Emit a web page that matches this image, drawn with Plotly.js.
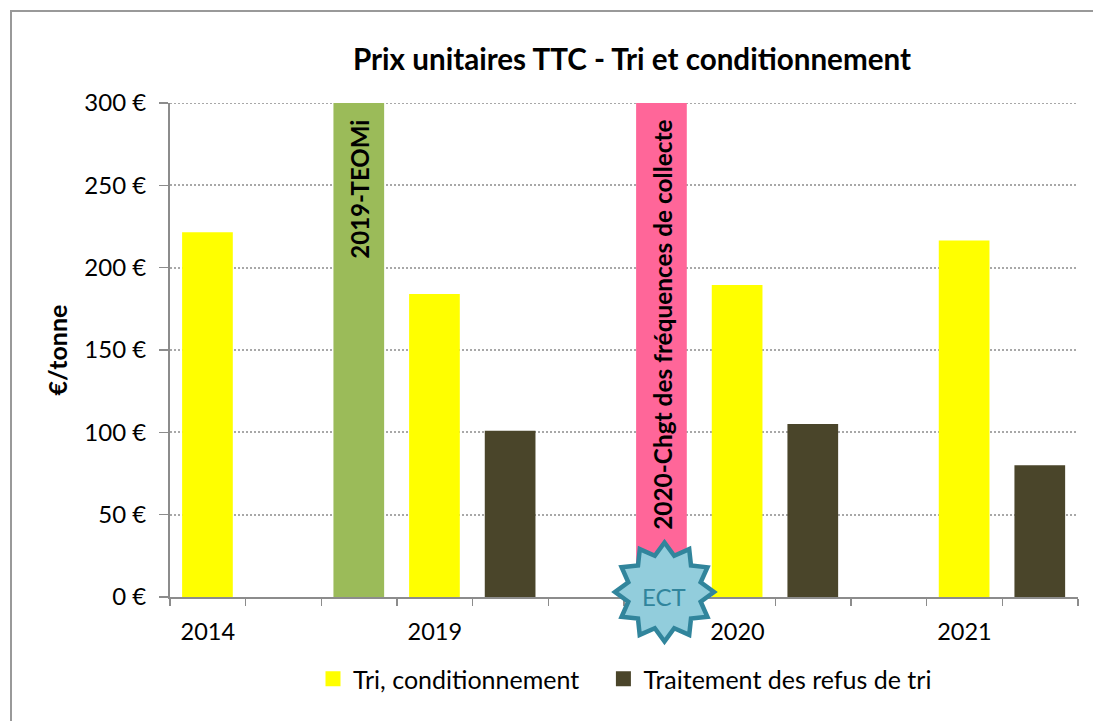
<!DOCTYPE html>
<html><head><meta charset="utf-8">
<script src="https://cdn.plot.ly/plotly-3.0.1.min.js"></script>
<style>html,body{margin:0;padding:0;background:#fff;overflow:hidden}#c{width:1093px;height:721px}</style>
</head><body><div id="c"></div>
<script>
const slots = ['a','b','c','d','e','f','g','h','i','j','k','l'];
const tickLabels = ['2014','','','2019','','','','2020','','','2021',''];
const tri = [221.5,null,null,184,null,null,null,189.5,null,null,216.5,null];
const refus = [null,null,null,null,101,null,null,null,105,null,null,80];
const teomi = [null,null,300,null,null,null,null,null,null,null,null,null];
const chgt = [null,null,null,null,null,null,300,null,null,null,null,null];
const FONT = 'Lato, Carlito, sans-serif';
const W = 1093, H = 721, L = 170, R = 1078, T = 103, B = 597;
const px = v => (v - L) / (R - L), py = v => (B - v) / (B - T);
const GRID = '#A8A8A8', AXIS = '#8C8C8C';

// 12-point star outline, offsets in pixels around the anchor
let star = '';
for (let i = 0; i < 24; i++) {
  const r = i % 2 ? 37.5 : 49.5, a = i * Math.PI / 12;
  star += (i ? 'L' : 'M') + (r * Math.sin(a)).toFixed(1) + ',' + (-r * Math.cos(a)).toFixed(1);
}
star += 'Z';

const bar = (name, y, color) => ({type:'bar', name, x:slots, y, marker:{color, line:{width:0}}, showlegend:false, width:0.67, offset:-0.34});
const key = (name, color) => ({type:'scatter', mode:'markers', name, x:[null], y:[null], marker:{symbol:'square', size:15, color}, showlegend:true});
const traces = [
  bar('Tri, conditionnement', tri, '#FFFF00'),
  bar('Traitement des refus de tri', refus, '#4A452A'),
  bar('2019-TEOMi', teomi, '#9BBB59'),
  bar('2020-Chgt des fréquences de collecte', chgt, '#FF6699'),
  key('Tri, conditionnement\u00A0\u00A0\u00A0', '#FFFF00'),
  key('Traitement des refus de tri', '#4A452A')
];
const layout = {
  width:W, height:H, autosize:false,
  margin:{l:L, r:W-R, t:T, b:H-B, pad:0},
  paper_bgcolor:'#fff', plot_bgcolor:'#fff',
  font:{family:FONT, color:'#000', size:24},
  barmode:'overlay',
  title:{text:'<b>Prix unitaires TTC - Tri et conditionnement</b>', font:{size:29.6, family:FONT, color:'#000'}, x:632/W, xanchor:'center', y:1-60/H, yanchor:'middle'},
  xaxis:{type:'category', categoryorder:'array', categoryarray:slots, tickmode:'array', tickvals:slots, ticktext:tickLabels,
    tickson:'boundaries', ticks:'outside', ticklen:7, tickwidth:1.5, tickcolor:AXIS, showline:true, linecolor:AXIS, linewidth:2,
    showgrid:false, zeroline:false, tickangle:0, ticklabelstandoff:13, tickfont:{size:23.5, family:FONT}, fixedrange:true, range:[-0.5,11.5]},
  yaxis:{range:[0,300], tickmode:'array', tickvals:[0,50,100,150,200,250,300], ticktext:['0 €','50 €','100 €','150 €','200 €','250 €','300 €'],
    ticks:'outside', ticklen:9, tickwidth:1.5, tickcolor:AXIS, showline:true, linecolor:AXIS, linewidth:2,
    showgrid:true, gridcolor:GRID, griddash:'2px,2px', gridwidth:2, zeroline:false, ticklabelstandoff:8, tickfont:{size:24, family:FONT},
    title:{text:'<b>€/tonne</b>', font:{size:25, family:FONT}, standoff:10}, fixedrange:true},
  legend:{orientation:'h', x:px(313), xanchor:'left', y:py(679), yanchor:'middle', font:{size:25, family:FONT}, bgcolor:'rgba(0,0,0,0)', itemwidth:30, itemsizing:'trace'},
  shapes:[
    {type:'rect', xref:'paper', yref:'paper', x0:px(11), x1:px(1110), y0:py(740), y1:py(11), line:{color:'#999', width:2}, fillcolor:'rgba(0,0,0,0)', layer:'below'},
    {type:'line', xref:'paper', yref:'y', x0:0, x1:1, y0:300, y1:300, line:{color:GRID, width:2, dash:'2px,2px'}, layer:'below'},
    {type:'path', xref:'paper', yref:'paper', xsizemode:'pixel', ysizemode:'pixel', xanchor:px(664.5), yanchor:py(592), path:star, fillcolor:'#92CDDC', line:{color:'#31859C', width:4.5}, layer:'above'}
  ],
  annotations:[
    {text:'<b>2019-TEOMi</b>', xref:'x', yref:'y', x:'c', y:300, yanchor:'top', xanchor:'center', yshift:-15, textangle:-90, showarrow:false, font:{size:24, family:FONT}},
    {text:'<b>2020-Chgt des fréquences de collecte</b>', xref:'x', yref:'y', x:'g', y:300, yanchor:'top', xanchor:'center', yshift:-15, textangle:-90, showarrow:false, font:{size:24.4, family:FONT}},
    {text:'ECT', xref:'paper', yref:'paper', x:px(664), y:py(596), showarrow:false, xanchor:'center', yanchor:'middle', font:{size:24, family:FONT, color:'#31859C'}}
  ]
};
Plotly.newPlot('c', traces, layout, {displayModeBar:false, staticPlot:true});
</script></body></html>
